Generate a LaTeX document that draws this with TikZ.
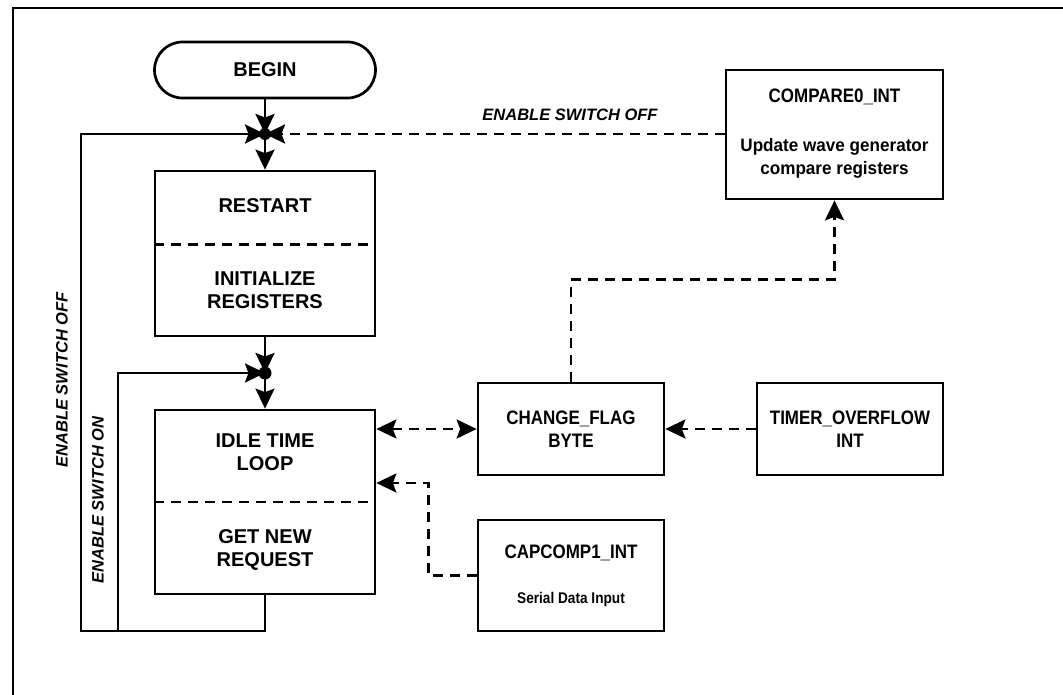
\documentclass[tikz,border=0pt]{standalone}
\usepackage{fontspec}
\setmainfont{Liberation Sans}
\newfontfamily\narrowfont[FakeStretch=0.87]{Liberation Sans}
\newfontfamily\narrowfontb[FakeStretch=0.95]{Liberation Sans}
\newfontfamily\narrowfontc[FakeStretch=0.88]{Liberation Sans}
\usetikzlibrary{arrows.meta,shapes.misc,calc}
\begin{document}
\begin{tikzpicture}[x=1pt,y=-1pt, line width=2.7pt,
  box/.style={draw, rectangle, inner sep=0pt},
  lbl/.style={font=\fontsize{20}{23}\selectfont\bfseries, align=center, inner sep=0pt},
  nlbl/.style={font=\narrowfont\fontsize{19.5}{23}\selectfont\bfseries, align=center, inner sep=0pt},
  ulbl/.style={font=\narrowfontb\fontsize{18}{23}\selectfont\bfseries, align=center, inner sep=0pt},
  slbl/.style={font=\narrowfontc\fontsize{15.5}{18}\selectfont\bfseries, align=center, inner sep=0pt},
  ital/.style={font=\fontsize{16.5}{18}\selectfont\bfseries\itshape, inner sep=0pt},
  dsh/.style={dash pattern=on 10pt off 7pt},
  tipA/.tip={Stealth[length=20pt,width=19pt,inset=3.5pt]},
  arr/.style={-tipA}
]
\useasboundingbox (0,0) rectangle (1063,695);
% frame
\draw (13,695) -- (13,8) -- (1063,8);

% nodes
\node[rounded rectangle, draw, minimum width=221pt, minimum height=56pt, lbl] (begin) at (265,70) {BEGIN};
\node[box, minimum width=220pt, minimum height=165pt] (restart) at (265,253.5) {};
\node[lbl] (restartT) at (265,206) {RESTART};
\node[lbl] (initT) at (265,290.5) {INITIALIZE\\REGISTERS};
\node[box, minimum width=220pt, minimum height=184pt] (idle) at (265,502) {};
\node[lbl] (idleT) at (265,452.5) {IDLE TIME\\LOOP};
\node[lbl] (getT) at (265,549.5) {GET NEW\\REQUEST};
\node[box, minimum width=217pt, minimum height=129pt] (compare) at (834.5,134.5) {};
\node[nlbl] (compareT) at (834.5,97) {COMPARE0\_INT};
\node[ulbl] (updateT) at (834.5,158.5) {Update wave generator\\compare registers};
\node[box, minimum width=186pt, minimum height=92pt, nlbl] (change) at (571,429) {CHANGE\_FLAG\\BYTE};
\node[box, minimum width=186pt, minimum height=92pt, nlbl] (timer) at (850,429) {TIMER\_OVERFLOW\\INT};
\node[box, minimum width=186pt, minimum height=111pt] (capcomp) at (571,575.5) {};
\node[nlbl] (capT) at (571,553) {CAPCOMP1\_INT};
\node[slbl] (serialT) at (571,599) {Serial Data Input};

\coordinate (j1) at (265,134);
\coordinate (j2) at (265,373);
\coordinate (b1) at (265,631);
\coordinate (b2) at (81,631);
\coordinate (b3) at (81,134);
\coordinate (b4) at (118,631);
\coordinate (b5) at (118,373);

% dividers
\draw[dsh] ($(restart.north west)!0.448!(restart.south west)$) -- ($(restart.north east)!0.448!(restart.south east)$);
\draw[dsh] (idle.west) -- (idle.east);

% solid flow
\draw[arr] (begin.south) -- (j1);
\draw[arr] (j1) -- (restart.north);
\draw[arr] (restart.south) -- (j2);
\draw[arr] (j2) -- (idle.north);
\draw[arr] (idle.south) -- (b1) -- (b2) -- (b3) -- (j1);
\draw[arr] (b4) -- (b5) -- (j2);

% dashed connections
\draw[dsh, arr] (compare.west |- j1) -- (j1);
\draw[dsh, arr] (change.north) -- ++(0,-102) -| (compare.south);
\draw[dsh, tipA-tipA] (change.west -| idle.east) -- (change.west);
\draw[dsh, arr] (timer.west) -- (change.east);
\draw[dsh, arr] (capcomp.west) -- ++(-48,0) |- ([yshift=19pt]idle.east);

% junction dots
\fill (j1) circle (6);
\fill (j2) circle (6.5);

% labels
\node[ital] (offH) at (570,115) {ENABLE SWITCH OFF};
\node[ital, rotate=90] (offV) at (62,380) {ENABLE SWITCH OFF};
\node[ital, rotate=90] (onV) at (98,500) {ENABLE SWITCH ON};
\end{tikzpicture}
\end{document}
